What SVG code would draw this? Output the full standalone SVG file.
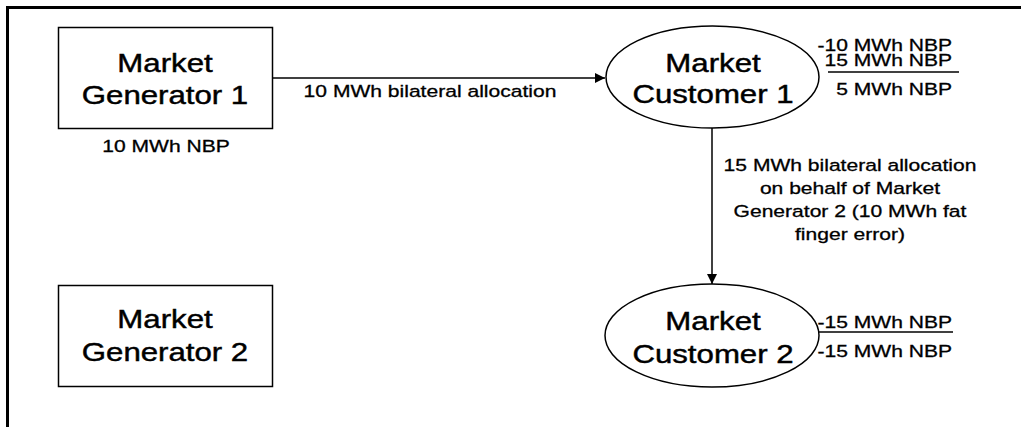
<svg xmlns="http://www.w3.org/2000/svg" width="1021" height="427" viewBox="0 0 1021 427">
<style>
.frame{fill:none;stroke:#000;stroke-width:3}
.box{fill:#fff;stroke:#000;stroke-width:1.5}
.big{font-family:"Liberation Sans",Arial,sans-serif;font-size:26px;fill:#000;stroke:#000;stroke-width:0.45;text-anchor:middle}
.sm{font-family:"Liberation Sans",Arial,sans-serif;font-size:17px;fill:#000;stroke:#000;stroke-width:0.3}
.mid{text-anchor:middle}
.end{text-anchor:end}
.conn{fill:none;stroke:#000;stroke-width:1.5}
.ul{stroke:#000;stroke-width:1.3}
</style>
<defs>
<marker id="arr" viewBox="0 0 10 10" refX="10" refY="5" markerWidth="10" markerHeight="10" markerUnits="userSpaceOnUse" orient="auto">
<path d="M0,0 L10,5 L0,10 z" fill="#000"/>
</marker>
</defs>
<rect class="frame" x="7.5" y="7.5" width="1100" height="500"/>
<g id="connectors">
<line class="conn" x1="273" y1="78" x2="605" y2="78" marker-end="url(#arr)"/>
<text class="sm mid" transform="translate(430,97) scale(1.24,1)">10 MWh bilateral allocation</text>
<line class="conn" x1="712" y1="128" x2="712" y2="284" marker-end="url(#arr)"/>
<g class="sm mid">
<text transform="translate(850,171) scale(1.24,1)">15 MWh bilateral allocation</text>
<text transform="translate(850,194) scale(1.24,1)">on behalf of Market</text>
<text transform="translate(850,217) scale(1.24,1)">Generator 2 (10 MWh fat</text>
<text transform="translate(850,240) scale(1.24,1)">finger error)</text>
</g>
</g>
<g id="mg1">
<rect class="box" x="58.5" y="27.5" width="214" height="101"/>
<text class="big" transform="translate(165,72) scale(1.2,1)">Market</text>
<text class="big" transform="translate(165,104) scale(1.2,1)">Generator 1</text>
<text class="sm mid" transform="translate(166,152) scale(1.24,1)">10 MWh NBP</text>
</g>
<g id="mc1">
<ellipse class="box" cx="712.5" cy="77" rx="106.5" ry="51"/>
<text class="big" transform="translate(713,72) scale(1.2,1)">Market</text>
<text class="big" transform="translate(713,103) scale(1.2,1)">Customer 1</text>
<text class="sm end" transform="translate(952,51) scale(1.24,1)">-10 MWh NBP</text>
<text class="sm end" transform="translate(952,66) scale(1.24,1)">15 MWh NBP</text>
<line class="ul" x1="828" y1="72" x2="959" y2="72"/>
<text class="sm end" transform="translate(952,95) scale(1.24,1)">5 MWh NBP</text>
</g>
<g id="mg2">
<rect class="box" x="58.5" y="285.5" width="214" height="101"/>
<text class="big" transform="translate(165,328) scale(1.2,1)">Market</text>
<text class="big" transform="translate(165,361) scale(1.2,1)">Generator 2</text>
</g>
<g id="mc2">
<ellipse class="box" cx="712" cy="335.5" rx="107" ry="51.5"/>
<text class="big" transform="translate(713,330) scale(1.2,1)">Market</text>
<text class="big" transform="translate(713,363) scale(1.2,1)">Customer 2</text>
<text class="sm end" transform="translate(952,328) scale(1.24,1)">-15 MWh NBP</text>
<line class="ul" x1="818" y1="332" x2="953" y2="332"/>
<text class="sm end" transform="translate(952,357) scale(1.24,1)">-15 MWh NBP</text>
</g>
</svg>
